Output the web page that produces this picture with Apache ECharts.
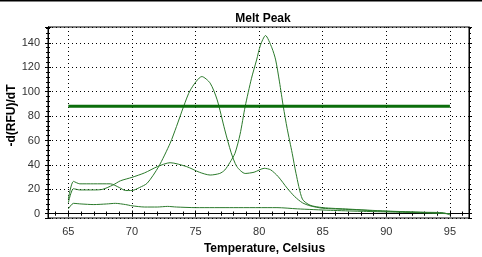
<!DOCTYPE html>
<html>
<head>
<meta charset="utf-8">
<script src="https://cdn.jsdelivr.net/npm/echarts@6/dist/echarts.min.js"></script>
<style>
  html, body { margin: 0; padding: 0; background: #fff; }
  #chart { width: 482px; height: 257px; }
</style>
</head>
<body>
<div id="chart"></div>
<script>
// melt peak curves
const tempA = [65, 65.4, 65.9, 67, 68.3, 69, 69.5, 70, 70.6, 71.2, 72.1, 73.0, 73.5, 74.06, 74.6, 75.5, 76.15, 76.7, 77.3, 77.8, 78.25, 78.9, 79.6, 80.4, 80.9, 81.5, 82.2, 82.8, 83.4, 84, 85, 87, 90, 93, 95];
const peakA = [12, 26.5, 24.5, 24.5, 24.5, 21.5, 19, 19, 21.5, 25, 38.6, 57.7, 71.4, 87.8, 101.5, 112.4, 107, 93.3, 68.7, 50, 38.6, 33, 34, 37.2, 36, 30.4, 21, 14, 9, 6.5, 4.5, 3.5, 2, 1, 0];

const tempB = [65, 65.4, 65.9, 67, 67.7, 68.5, 69.1, 70, 71, 72, 73, 74.3, 75.3, 76.15, 76.9, 77.3, 77.7, 78.1, 78.5, 78.9, 79.4, 79.8, 80.1, 80.5, 81, 81.3, 81.6, 81.9, 82.2, 82.6, 82.9, 83.4, 84, 85, 87, 90, 93, 94.5, 95];
const peakB = [9, 20.5, 19.5, 19.5, 20, 23.5, 27, 29.8, 33.5, 38.6, 41.8, 38.6, 34, 31.7, 33, 35.8, 42, 49.5, 65, 87.8, 111, 126, 138, 146, 136, 126, 108, 87.8, 70, 49.5, 33, 12, 7, 5, 3.8, 2.2, 1.2, 0.8, -1];

const tempC = [65, 65.4, 66, 67, 68, 68.7, 69.5, 70, 71, 72, 72.8, 73.5, 75, 78, 81.4, 83, 85.6, 88, 90, 92, 95];
const peakC = [4, 8.5, 8, 7.5, 8, 8.5, 7.5, 6.5, 5.5, 5.5, 6, 5.5, 5, 5, 5, 4, 2.8, 2, 1.5, 1, 0];

const thresholdT = [65, 95];
const threshold = 88;

const xMin = 63.4, xMax = 96.5;
const yMin = -3.5, yMax = 153;

const chart = echarts.init(document.getElementById('chart'));
const font = 'Liberation Sans, Arial, sans-serif';
const pairs = (xs, ys) => xs.map((x, i) => [x, ys[i]]);

const tickAxis = (extra) => Object.assign({
  type: 'value',
  axisLine: { show: true, lineStyle: { color: '#000', width: 1 } },
  axisTick: { show: true, length: 3, lineStyle: { color: '#000' } },
  minorTick: { show: true, splitNumber: 5, length: 2, lineStyle: { color: '#000' } },
  axisLabel: { show: false },
  splitLine: { show: false }
}, extra);

const curve = (xs, ys) => ({
  type: 'line',
  data: pairs(xs, ys),
  smooth: 0.25,
  showSymbol: false,
  lineStyle: { color: '#2b7a2b', width: 1 },
  z: 3
});

chart.setOption({
  animation: false,
  backgroundColor: '#fff',
  title: {
    text: 'Melt Peak',
    left: 258, top: 8, textAlign: 'center',
    textStyle: { fontFamily: font, fontSize: 12, fontWeight: 'bold', color: '#000' }
  },
  graphic: [{ type: 'rect', left: 0, top: 0, shape: { width: 482, height: 1.5 }, style: { fill: '#000' } }],
  grid: { left: 48, right: 13, top: 27, bottom: 39, containLabel: false, outerBoundsMode: 'none', show: true, borderColor: '#000', borderWidth: 1 },
  xAxis: [
    tickAxis({
      min: xMin, max: xMax, minInterval: 5, maxInterval: 5, position: 'bottom',
      name: 'Temperature, Celsius', nameLocation: 'middle', nameGap: 25, nameMoveOverlap: false,
      nameTextStyle: { fontFamily: font, fontSize: 12, fontWeight: 'bold', color: '#000', padding: [0, 0, 0, 12] },
      axisLabel: { show: true, showMinLabel: false, showMaxLabel: false, margin: 8, fontFamily: font, fontSize: 11, color: '#333' },
      splitLine: { show: true, lineStyle: { color: '#000', type: [1, 3], width: 1 } }
    }),
    tickAxis({ min: xMin, max: xMax, minInterval: 5, maxInterval: 5, position: 'bottom', axisTick: { show: true, inside: true, length: 3, lineStyle: { color: '#000' } }, minorTick: { show: true, splitNumber: 5, length: 2, lineStyle: { color: '#000' } } }),
    tickAxis({ min: xMin, max: xMax, minInterval: 5, maxInterval: 5, position: 'top' })
  ],
  yAxis: [
    tickAxis({
      min: yMin, max: yMax, minInterval: 20, maxInterval: 20, position: 'left',
      name: '-d(RFU)/dT', nameLocation: 'middle', nameGap: 30, nameRotate: 90, nameMoveOverlap: false,
      nameTextStyle: { fontFamily: font, fontSize: 12, fontWeight: 'bold', color: '#000', padding: [0, 0, 0, 14] },
      axisLabel: { show: true, showMinLabel: false, showMaxLabel: false, margin: 8, fontFamily: font, fontSize: 11, color: '#333' },
      splitLine: { show: true, lineStyle: { color: '#000', type: [1, 3], width: 1 } }
    }),
    tickAxis({ min: yMin, max: yMax, minInterval: 20, maxInterval: 20, position: 'left', axisTick: { show: true, inside: true, length: 3, lineStyle: { color: '#000' } }, minorTick: { show: true, splitNumber: 5, length: 2, lineStyle: { color: '#000' } } }),
    tickAxis({ min: yMin, max: yMax, minInterval: 20, maxInterval: 20, position: 'right' })
  ],
  series: [
    curve(tempA, peakA),
    curve(tempB, peakB),
    curve(tempC, peakC),
    {
      type: 'line',
      data: thresholdT.map(t => [t, threshold]),
      showSymbol: false,
      lineStyle: { color: '#0b6e0b', width: 3 },
      z: 4
    }
  ]
});
</script>
</body>
</html>
